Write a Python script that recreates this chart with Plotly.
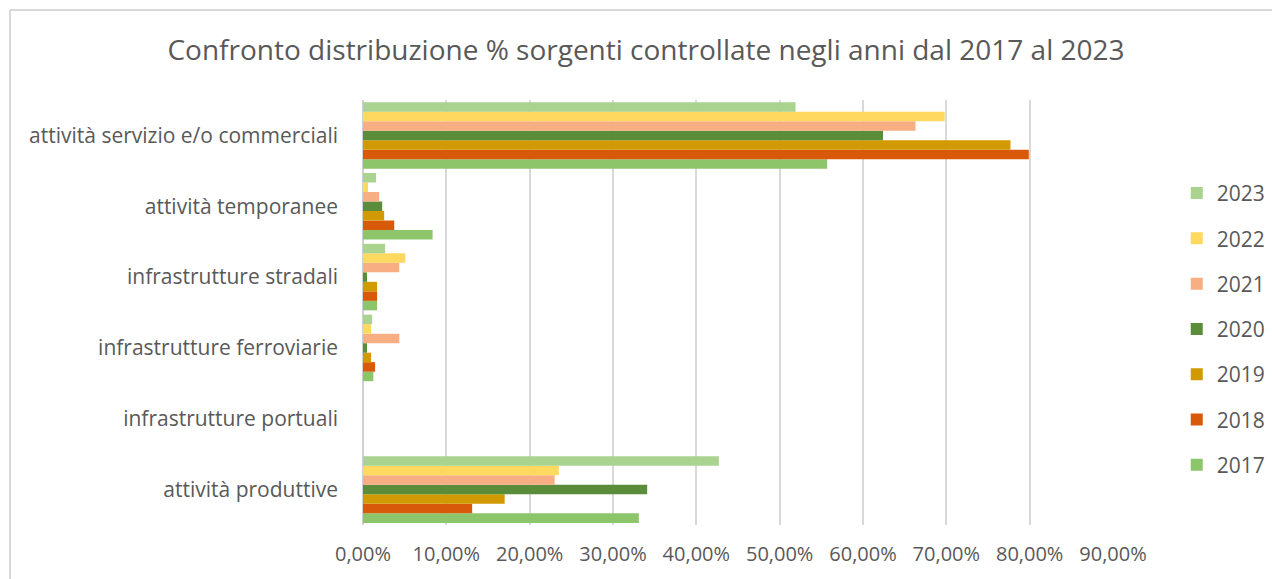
import plotly.graph_objects as go

categories = [
    "attività produttive",
    "infrastrutture portuali",
    "infrastrutture ferroviarie",
    "infrastrutture stradali",
    "attività temporanee",
    "attività servizio e/o commerciali",
]

years = ["2017", "2018", "2019", "2020", "2021", "2022", "2023"]

v2017 = [0.331, 0.0, 0.0124, 0.0169, 0.0835, 0.557]
v2018 = [0.131, 0.0, 0.0145, 0.0169, 0.0375, 0.799]
v2019 = [0.170, 0.0, 0.0097, 0.0169, 0.0254, 0.777]
v2020 = [0.341, 0.0, 0.0048, 0.0048, 0.0230, 0.624]
v2021 = [0.230, 0.0, 0.0436, 0.0435, 0.0194, 0.663]
v2022 = [0.235, 0.0, 0.0097, 0.0508, 0.0060, 0.698]
v2023 = [0.427, 0.0, 0.0109, 0.0266, 0.0157, 0.519]

series = [v2017, v2018, v2019, v2020, v2021, v2022, v2023]
colors = ["#8CC56A", "#D9590B", "#D19A00", "#5A8C3A", "#F6AE82", "#FFD95F", "#A9D38E"]

fig = go.Figure()
for i, (yr, vals, col) in enumerate(zip(years, series, colors)):
    fig.add_trace(go.Bar(
        y=categories, x=vals, name=yr, orientation="h",
        marker=dict(color=col, line=dict(width=0)),
        legendgroup=yr, legendrank=100 - i,
    ))

grey = "#595959"
fig.update_layout(
    width=1272, height=579,
    margin=dict(l=363, r=159, t=100, b=54, autoexpand=False),
    paper_bgcolor="white", plot_bgcolor="white",
    font=dict(family="Open Sans", color=grey),
    separators=",.",
    barmode="group", bargap=0.06, bargroupgap=0,
    title=dict(
        text="Confronto distribuzione % sorgenti controllate negli anni dal 2017 al 2023",
        font=dict(size=28, color=grey, family="Open Sans"),
        x=646/1272, xanchor="center", xref="container",
        y=1-50/579, yanchor="middle", yref="container",
    ),
    xaxis=dict(
        range=[0, 0.9], dtick=0.1, tickformat=".2%",
        showgrid=True, gridcolor="#D9D9D9", gridwidth=1.5,
        zeroline=True, zerolinecolor="#D0D0D0", zerolinewidth=2,
        tickfont=dict(size=20, color=grey),
        ticks="", ticklabelstandoff=15, fixedrange=True, automargin=False,
    ),
    yaxis=dict(
        tickfont=dict(size=21, color=grey),
        ticks="", showgrid=False, ticklabelstandoff=24, automargin=False,
    ),
    legend=dict(
        traceorder="grouped", tracegroupgap=15,
        x=1.085, xanchor="left", y=0.8285, yanchor="top",
        font=dict(size=21, color=grey),
        bgcolor="rgba(0,0,0,0)",
    ),
    shapes=[
        dict(type="line", xref="paper", yref="paper",
             x0=-353/750, x1=1.22, y0=515/425, y1=515/425,
             line=dict(color="#D9D9D9", width=2)),
        dict(type="line", xref="paper", yref="paper",
             x0=-353/750, x1=-353/750, y0=515/425, y1=-0.14,
             line=dict(color="#D9D9D9", width=2)),
    ],
)

fig.write_html("out.html", config={"displayModeBar": False},
               post_script="document.body.style.margin='0';")
